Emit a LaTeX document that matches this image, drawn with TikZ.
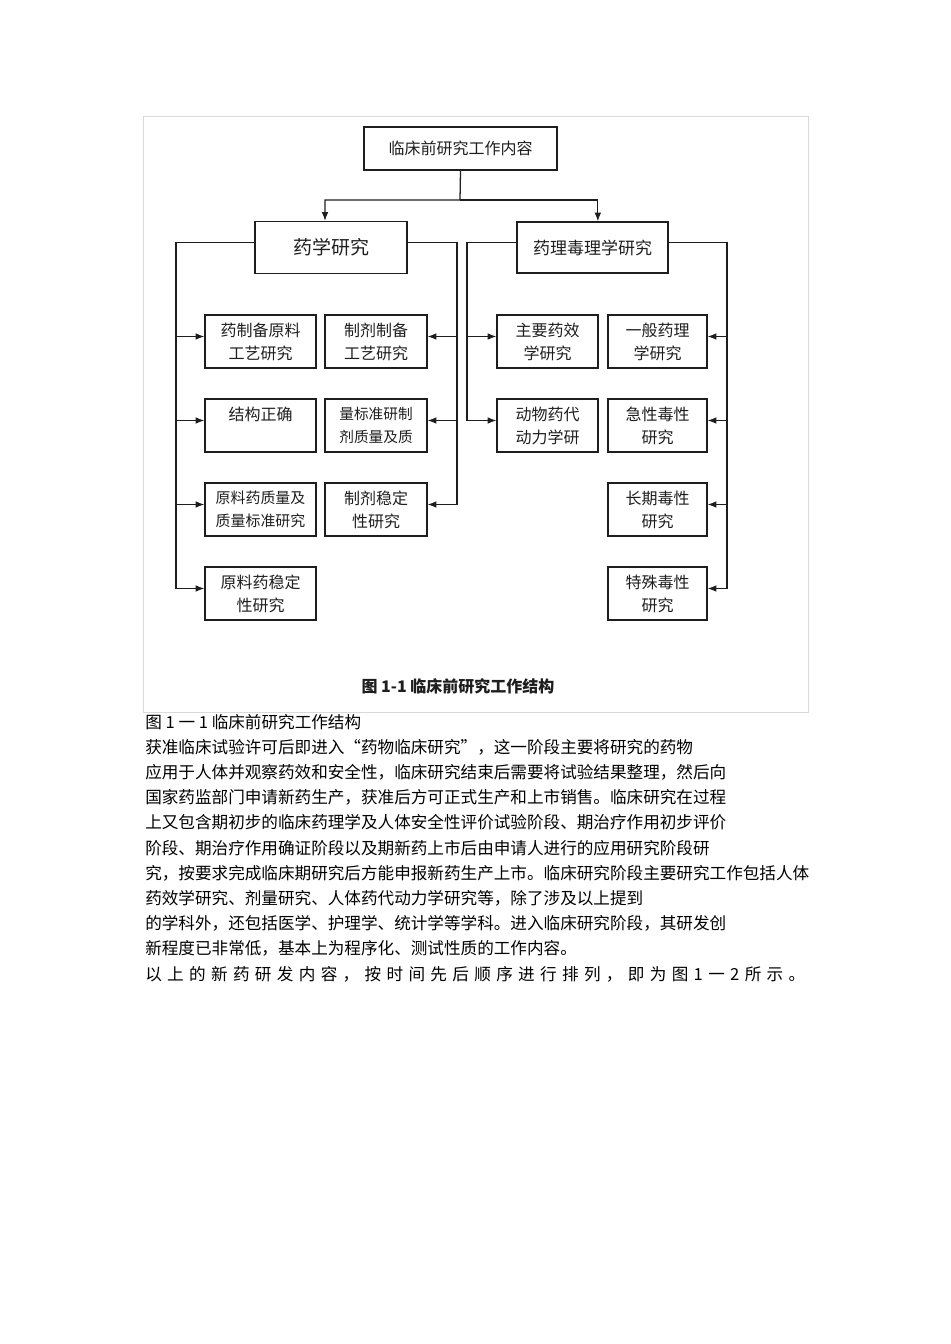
\documentclass[tikz,border=0pt]{standalone}
\usepackage{fontspec}
\newfontfamily\cjk{Noto Sans CJK SC}
\usetikzlibrary{arrows.meta}
\definecolor{inkgray}{HTML}{1E1E1E}
\definecolor{framegray}{HTML}{D9D9D9}
\tikzstyle{kuang} = [rectangle,draw=inkgray,line width=1pt,text=inkgray,align=center,inner sep=0pt]
\tikzstyle{xiao} = [kuang,minimum height=39.75pt,font=\cjk\fontsize{12}{17.25}\selectfont]
\tikzstyle{xian} = [draw=inkgray,line width=0.95pt]
\tikzstyle{arrow} = [xian,-{Latex[length=6.5pt,width=5pt]}]
\tikzstyle{zhengwen} = [anchor=base west,inner sep=0pt,font=\cjk\fontsize{12.45}{15}\selectfont,text=black]

\begin{document}
\begin{tikzpicture}[x=0.75pt,y=-0.75pt]
\useasboundingbox (0,0) rectangle (950,1344);

% scanned figure frame
\draw[framegray,line width=0.7pt] (143,116) rectangle (808,712);

\node (neirong) [kuang,minimum width=144.75pt,minimum height=32.25pt,font=\cjk\fontsize{12}{14}\selectfont] at (460.5,148.5) {临床前研究工作内容};
\node (yaoxue)  [kuang,minimum width=114pt,minimum height=39pt,font=\cjk\fontsize{14.25}{16}\selectfont] at (331,247.5) {药学研究};
\node (yaoli)   [kuang,minimum width=113.25pt,minimum height=38.25pt,font=\cjk\fontsize{12.75}{15}\selectfont] at (592.5,247.5) {药理毒理学研究};

% 药学研究
\node (a1) [xiao,minimum width=83.25pt] at (260.5,341.5) {药制备原料\\工艺研究};
\node (a2) [xiao,minimum width=83.25pt] at (260.5,425.5) {结构正确\\~};
\node (a3) [xiao,minimum width=83.25pt,font=\cjk\fontsize{11.2}{17.25}\selectfont] at (260.5,509.5) {原料药质量及\\质量标准研究};
\node (a4) [xiao,minimum width=83.25pt] at (260.5,593.5) {原料药稳定\\性研究};

\node (b1) [xiao,minimum width=76.5pt] at (376,341.5) {制剂制备\\工艺研究};
\node (b2) [xiao,minimum width=76.5pt,font=\cjk\fontsize{11}{17.25}\selectfont] at (376,425.5) {量标准研制\\剂质量及质};
\node (b3) [xiao,minimum width=76.5pt] at (376,509.5) {制剂稳定\\性研究};

% 药理毒理学研究
\node (c1) [xiao,minimum width=75.75pt] at (547.5,341.5) {主要药效\\学研究};
\node (c2) [xiao,minimum width=75.75pt] at (547.5,425.5) {动物药代\\动力学研};

\node (d1) [xiao,minimum width=74.25pt] at (657.5,341.5) {一般药理\\学研究};
\node (d2) [xiao,minimum width=74.25pt] at (657.5,425.5) {急性毒性\\研究};
\node (d3) [xiao,minimum width=74.25pt] at (657.5,509.5) {长期毒性\\研究};
\node (d4) [xiao,minimum width=74.25pt] at (657.5,593.5) {特殊毒性\\研究};

\coordinate (fen)   at (460,200);
\coordinate (lbus)  at (176,400);
\coordinate (rbus)  at (457,400);
\coordinate (plbus) at (467,330);
\coordinate (prbus) at (727,400);

\draw[arrow] (neirong.south) -- (fen) -| ([xshift=-4.5pt]yaoxue.north);
\draw[arrow] (fen) -| ([xshift=4pt]yaoli.north);

\draw[arrow] ([yshift=4pt]yaoxue.west) -| (lbus) |- ([yshift=3.75pt]a4.west);
\draw[arrow] ([yshift=3.75pt]lbus |- a1.west) -- ([yshift=3.75pt]a1.west);
\draw[arrow] ([yshift=3.75pt]lbus |- a2.west) -- ([yshift=3.75pt]a2.west);
\draw[arrow] ([yshift=3.75pt]lbus |- a3.west) -- ([yshift=3.75pt]a3.west);

\draw[arrow] ([yshift=4pt]yaoxue.east) -| (rbus) |- ([yshift=3.75pt]b3.east);
\draw[arrow] ([yshift=3.75pt]rbus |- b1.east) -- ([yshift=3.75pt]b1.east);
\draw[arrow] ([yshift=3.75pt]rbus |- b2.east) -- ([yshift=3.75pt]b2.east);

\draw[arrow] ([yshift=4pt]yaoli.west) -| (plbus) |- ([yshift=3.75pt]c2.west);
\draw[arrow] ([yshift=3.75pt]plbus |- c1.west) -- ([yshift=3.75pt]c1.west);

\draw[arrow] ([yshift=4pt]yaoli.east) -| (prbus) |- ([yshift=3.75pt]d4.east);
\draw[arrow] ([yshift=3.75pt]prbus |- d1.east) -- ([yshift=3.75pt]d1.east);
\draw[arrow] ([yshift=3.75pt]prbus |- d2.east) -- ([yshift=3.75pt]d2.east);
\draw[arrow] ([yshift=3.75pt]prbus |- d3.east) -- ([yshift=3.75pt]d3.east);

\node (tuming) [text=inkgray,font=\cjk\bfseries\fontsize{12}{14}\selectfont] at (458,686) {图 1-1 临床前研究工作结构};

% text below the figure
\node (t1)  [zhengwen] at (145,728)   {图 1 一 1 临床前研究工作结构};
\node (t2)  [zhengwen] at (145,753.2) {获准临床试验许可后即进入“药物临床研究”，这一阶段主要将研究的药物};
\node (t3)  [zhengwen] at (145,778.4) {应用于人体并观察药效和安全性，临床研究结束后需要将试验结果整理，然后向};
\node (t4)  [zhengwen] at (145,803.6) {国家药监部门申请新药生产，获准后方可正式生产和上市销售。临床研究在过程};
\node (t5)  [zhengwen] at (145,828.8) {上又包含期初步的临床药理学及人体安全性评价试验阶段、期治疗作用初步评价};
\node (t6)  [zhengwen] at (145,854)   {阶段、期治疗作用确证阶段以及期新药上市后由申请人进行的应用研究阶段研};
\node (t7)  [zhengwen] at (145,879.2) {究，按要求完成临床期研究后方能申报新药生产上市。临床研究阶段主要研究工作包括人体};
\node (t8)  [zhengwen] at (145,904.4) {药效学研究、剂量研究、人体药代动力学研究等，除了涉及以上提到};
\node (t9)  [zhengwen] at (145,929.6) {的学科外，还包括医学、护理学、统计学等学科。进入临床研究阶段，其研发创};
\node (t10) [zhengwen] at (145,954.8) {新程度已非常低，基本上为程序化、测试性质的工作内容。};
\node (t11) [zhengwen] at (145,980)   {\makebox[495pt][s]{以\hfill 上\hfill 的\hfill 新\hfill 药\hfill 研\hfill 发\hfill 内\hfill 容\hfill ，\hfill 按\hfill 时\hfill 间\hfill 先\hfill 后\hfill 顺\hfill 序\hfill 进\hfill 行\hfill 排\hfill 列\hfill ，\hfill 即\hfill 为\hfill 图\hfill 1\hfill 一\hfill 2\hfill 所\hfill 示\hfill 。}};

\end{tikzpicture}
\end{document}
